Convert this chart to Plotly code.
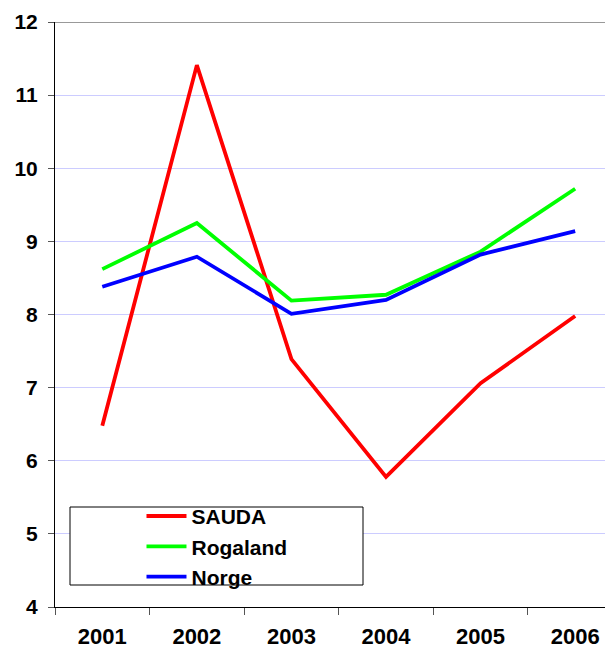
import plotly.graph_objects as go

years = ["2001", "2002", "2003", "2004", "2005", "2006"]
sauda = [6.48, 11.41, 7.39, 5.78, 7.06, 7.98]
rogaland = [8.62, 9.25, 8.19, 8.27, 8.86, 9.72]
norge = [8.38, 8.79, 8.01, 8.20, 8.82, 9.14]

FONT = "Liberation Sans, Arial, sans-serif"

fig = go.Figure()
for name, vals, col in [("SAUDA", sauda, "#ff0000"),
                        ("Rogaland", rogaland, "#00ff00"),
                        ("Norge", norge, "#0000ff")]:
    fig.add_trace(go.Scatter(x=years, y=vals, name=name, mode="lines",
                             line=dict(color=col, width=3.8)))

fig.update_layout(
    width=613, height=651,
    margin=dict(l=47, r=8, t=14, b=52, autoexpand=False),
    plot_bgcolor="white", paper_bgcolor="white",
    font=dict(family=FONT, size=21, color="black"),
    showlegend=True,
    legend=dict(x=0.155, y=0.19, xanchor="left", yanchor="top",
                bgcolor="rgba(0,0,0,0)", borderwidth=0,
                font=dict(family=FONT, size=21, color="black", weight="bold"),
                tracegroupgap=0, itemwidth=40),
)
fig.update_xaxes(type="category", range=[-0.5, 5.4], tickson="boundaries",
                 ticks="outside", ticklen=7, tickcolor="#555555",
                 showline=True, linecolor="black", linewidth=1,
                 showgrid=False, ticklabelstandoff=10, automargin=False,
                 tickfont=dict(family=FONT, size=22, color="black", weight="bold"))
fig.update_yaxes(range=[4, 12], dtick=1, ticks="outside", ticklen=6,
                 tickcolor="#555555",
                 showline=True, linecolor="black", linewidth=1,
                 showgrid=True, gridcolor="#ccccff", gridwidth=1,
                 zeroline=False, ticklabelstandoff=6, automargin=False,
                 tickfont=dict(family=FONT, size=21, color="black", weight="bold"))
# grey top line at 12
fig.add_shape(type="line", xref="paper", yref="y", x0=0, x1=1, y0=12, y1=12,
              line=dict(color="#999999", width=2))
# legend frame
fig.add_shape(type="rect", xref="paper", yref="paper",
              x0=(70-55)/558, x1=(363-55)/558,
              y0=(607-585)/585, y1=(607-507)/585,
              line=dict(color="black", width=1), fillcolor="white", layer="above")

fig.write_html("out.html")
